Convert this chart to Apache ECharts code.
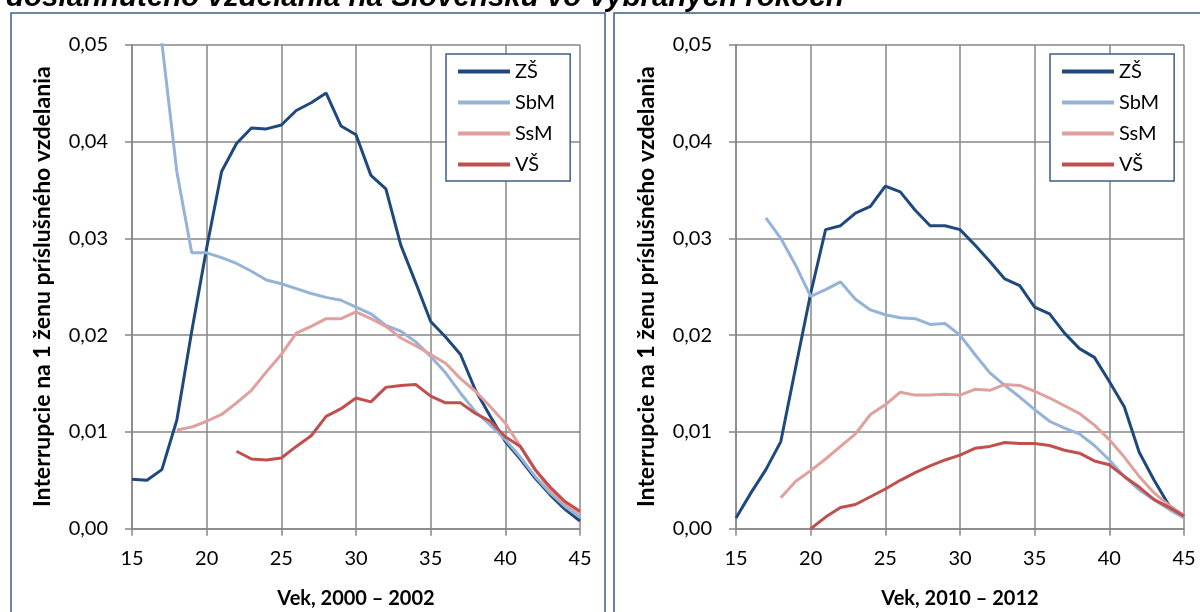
<!DOCTYPE html>
<html>
<head>
<meta charset="utf-8">
<script src="https://cdn.jsdelivr.net/npm/echarts@6/dist/echarts.min.js"></script>
<style>
html,body{margin:0;padding:0;background:#fff;}
#c{width:1200px;height:612px;}
</style>
</head>
<body>
<div id="c"></div>
<script>
const titleText = 'dosiahnutého vzdelania na Slovensku vo vybraných rokoch';
const yAxisName = 'Interrupcie na 1 ženu príslušného vzdelania';
const xNameLeft = 'Vek, 2000 – 2002';
const xNameRight = 'Vek, 2010 – 2012';
const seriesNames = ['ZŠ', 'SbM', 'SsM', 'VŠ'];
const ages = [15,16,17,18,19,20,21,22,23,24,25,26,27,28,29,30,31,32,33,34,35,36,37,38,39,40,41,42,43,44,45];

// 2000 – 2002
const zs2000 = [0.0051,0.0050,0.0061,0.0112,0.0204,0.0290,0.0369,0.0398,0.0414,0.0413,0.0417,0.0432,0.0440,0.0450,0.0416,0.0407,0.0365,0.0351,0.0293,0.0254,0.0214,0.0198,0.0180,0.0143,0.0116,0.0090,0.0072,0.0052,0.0035,0.0020,0.0008];
const sbm2000 = [null,null,0.0502,0.0369,0.0285,0.0285,0.0280,0.0274,0.0266,0.0257,0.0253,0.0248,0.0243,0.0239,0.0236,0.0229,0.0222,0.0210,0.0204,0.0193,0.0178,0.0161,0.0140,0.0121,0.0107,0.0092,0.0074,0.0054,0.0037,0.0023,0.0012];
const ssm2000 = [null,null,null,0.0102,0.0105,0.0111,0.0118,0.0130,0.0143,0.0162,0.0180,0.0202,0.0209,0.0217,0.0217,0.0224,0.0217,0.0209,0.0197,0.0189,0.0180,0.0171,0.0155,0.0142,0.0126,0.0109,0.0085,0.0061,0.0040,0.0026,0.0016];
const vs2000 = [null,null,null,null,null,null,null,0.0080,0.0072,0.0071,0.0073,0.0085,0.0096,0.0116,0.0124,0.0135,0.0131,0.0146,0.0148,0.0149,0.0137,0.0130,0.0130,0.0119,0.0111,0.0095,0.0085,0.0061,0.0043,0.0028,0.0018];

// 2010 – 2012
const zs2010 = [0.0011,0.0037,0.0061,0.0090,0.0167,0.0243,0.0309,0.0313,0.0326,0.0333,0.0354,0.0348,0.0329,0.0313,0.0313,0.0309,0.0293,0.0276,0.0258,0.0251,0.0229,0.0222,0.0202,0.0186,0.0177,0.0152,0.0126,0.0079,0.0050,0.0024,0.0013];
const sbm2010 = [null,null,0.0321,0.0300,0.0272,0.0240,0.0247,0.0255,0.0237,0.0226,0.0221,0.0218,0.0217,0.0211,0.0212,0.0200,0.0180,0.0161,0.0148,0.0136,0.0123,0.0111,0.0104,0.0098,0.0086,0.0071,0.0054,0.0040,0.0030,0.0020,0.0011];
const ssm2010 = [null,null,null,0.0032,0.0049,0.0060,0.0072,0.0085,0.0098,0.0118,0.0128,0.0141,0.0138,0.0138,0.0139,0.0138,0.0144,0.0143,0.0149,0.0148,0.0142,0.0135,0.0127,0.0119,0.0107,0.0092,0.0074,0.0054,0.0037,0.0024,0.0014];
const vs2010 = [null,null,null,null,null,0.0000,0.0012,0.0022,0.0025,0.0033,0.0041,0.0050,0.0058,0.0065,0.0071,0.0076,0.0083,0.0085,0.0089,0.0088,0.0088,0.0086,0.0081,0.0078,0.0070,0.0066,0.0054,0.0043,0.0030,0.0022,0.0013];

const colors = ['#1F497D', '#95B3D7', '#E0A09E', '#C0504D'];
const gridColor = '#878787';
const frameColor = '#3A5E8C';
const tickFont = 'Lato';

function pairs(vals) { return ages.map((a, i) => [a, vals[i]]); }

function xAxis(gridIndex, name) {
  return {
    type: 'value', gridIndex, min: 15, max: 45, interval: 5,
    name, nameLocation: 'middle', nameGap: 60,
    nameTextStyle: { fontFamily: tickFont, fontWeight: 'bold', fontSize: 20, color: '#000' },
    axisLine: { show: true, onZero: false, lineStyle: { color: gridColor, width: 1.5 } },
    axisTick: { show: true, length: 7, lineStyle: { color: gridColor, width: 1.5 } },
    axisLabel: { margin: 20, fontFamily: tickFont, fontSize: 20, color: '#000' },
    splitLine: { show: true, lineStyle: { color: gridColor, width: 1.5 } }
  };
}
function yAxis(gridIndex) {
  return {
    type: 'value', gridIndex, min: 0, max: 0.05, interval: 0.01,
    name: yAxisName, nameLocation: 'middle', nameGap: 78, nameRotate: 90,
    nameTextStyle: { fontFamily: tickFont, fontWeight: 'bold', fontSize: 23, color: '#000' },
    axisLine: { show: true, lineStyle: { color: gridColor, width: 1.5 } },
    axisTick: { show: true, length: 7, lineStyle: { color: gridColor, width: 1.5 } },
    axisLabel: { margin: 24, fontFamily: tickFont, fontSize: 20, color: '#000',
      formatter: v => v.toFixed(2).replace('.', ',') },
    splitLine: { show: true, lineStyle: { color: gridColor, width: 1.5 } }
  };
}
function lines(idx, arrs) {
  return arrs.map((vals, k) => ({
    name: seriesNames[k], type: 'line', xAxisIndex: idx, yAxisIndex: idx,
    data: pairs(vals), showSymbol: false, symbol: 'none', connectNulls: false, clip: true,
    lineStyle: { color: colors[k], width: 3 }, itemStyle: { color: colors[k] },
    emphasis: { disabled: true }, animation: false
  }));
}
function legend(left) {
  return {
    data: seriesNames, orient: 'vertical', left, top: 54,
    backgroundColor: '#fff', borderColor: frameColor, borderWidth: 1.5,
    padding: [7, 15, 6, 12], itemGap: 10, itemWidth: 52, itemHeight: 4, icon: 'rect',
    textStyle: { fontFamily: tickFont, fontSize: 20, color: '#000', lineHeight: 21 },
    selectedMode: false
  };
}

const chart = echarts.init(document.getElementById('c'), null, { renderer: 'canvas' });
chart.setOption({
  animation: false,
  color: colors,
  grid: [
    { left: 132, right: 620, top: 44.7, bottom: 83.3, outerBoundsMode: 'none', containLabel: false },
    { left: 736, right: 16, top: 44.7, bottom: 83.3, outerBoundsMode: 'none', containLabel: false }
  ],
  xAxis: [xAxis(0, xNameLeft), xAxis(1, xNameRight)],
  yAxis: [yAxis(0), yAxis(1)],
  legend: [legend(446), legend(1050)],
  series: lines(0, [zs2000, sbm2000, ssm2000, vs2000]).concat(lines(1, [zs2010, sbm2010, ssm2010, vs2010])),
  graphic: [
    { type: 'rect', shape: { x: 11, y: 13, width: 594, height: 620 }, style: { fill: 'none', stroke: frameColor, lineWidth: 1.5 }, silent: true, z: 100 },
    { type: 'rect', shape: { x: 614, y: 13, width: 620, height: 620 }, style: { fill: 'none', stroke: frameColor, lineWidth: 1.5 }, silent: true, z: 100 },
    { type: 'text', x: 6, y: -2, style: { text: titleText, font: 'italic bold 29.5px "Liberation Sans", Arial, sans-serif', fill: '#000', textVerticalAlign: 'middle' }, silent: true, z: 100 }
  ]
});
</script>
</body>
</html>
